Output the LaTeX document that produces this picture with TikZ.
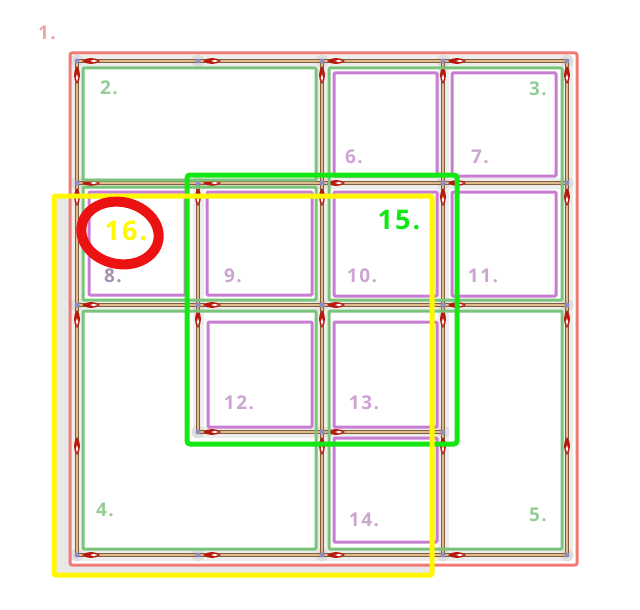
\documentclass[tikz,border=0pt]{standalone}
\usepackage{fontspec}
\newfontfamily\labelfont[LetterSpace=8, BoldFont={Open Sans Bold}]{Open Sans}
\definecolor{redbox}{RGB}{240,122,116}
\definecolor{redlab}{RGB}{240,165,165}
\definecolor{palegreen}{RGB}{122,196,122}
\definecolor{greenlab}{RGB}{150,205,150}
\definecolor{orchidbox}{RGB}{200,125,210}
\definecolor{orchidlab}{RGB}{205,165,210}
\definecolor{greylab}{RGB}{165,145,175}
\definecolor{brightgreen}{RGB}{20,232,20}
\definecolor{qyellow}{RGB}{255,248,0}
\definecolor{pipebrown}{RGB}{130,95,60}
\definecolor{pipetan}{RGB}{222,186,140}
\definecolor{dartred}{RGB}{185,25,12}
\definecolor{markred}{RGB}{236,18,18}
\tikzset{
  pipe/.style={line width=4pt, pipebrown},
  pipecore/.style={line width=1.8pt, pipetan},
  pipeshade/.style={line width=11pt, black!7},
  greenbox/.style={draw=palegreen, line width=3pt, rounded corners=1pt},
  orchidbox/.style={draw=orchidbox, line width=3pt, rounded corners=1pt},
  lab/.style={font=\labelfont\bfseries\fontsize{19}{19}\selectfont, inner sep=0pt},
  biglab/.style={font=\labelfont\bfseries\fontsize{27}{27}\selectfont, inner sep=0pt},
  hdart/.pic={
    \fill[dartred] (0,0) .. controls (5,-4) and (13,-4) .. (18,0)
      .. controls (13,4) and (5,4) .. (0,0);
    \fill[white] (8,0) .. controls (10,-1.4) and (13,-1.4) .. (16,0)
      .. controls (13,1.4) and (10,1.4) .. (8,0);
  }
}
\begin{document}
\begin{tikzpicture}[x=1pt,y=-1pt]
  \useasboundingbox (0,0) rectangle (640,610);
  \foreach \i/\x in {0/77,1/198,2/322,3/443,4/567}
    \foreach \j/\y in {0/61,1/183,2/305,3/432,4/555}
      \coordinate (g\i\j) at (\x,\y);
  \fill[black!9] (56,198) rectangle (430,573);
  \fill[white] (70,53) rectangle (577,565);
  \begin{scope}
    \foreach \a/\b in {00/10,10/20,20/30,30/40,01/11,11/21,21/31,31/41,
        02/12,12/22,22/32,32/42,13/23,23/33,04/14,14/24,24/34,34/44,
        00/01,01/02,02/03,03/04,11/12,12/13,20/21,21/22,22/23,23/24,
        30/31,31/32,32/33,33/34,40/41,41/42,42/43,43/44}
      \draw[pipeshade] (g\a) -- (g\b);
    \foreach \a in {00,10,20,30,40,01,11,21,31,41,02,12,22,32,42,13,23,33,04,14,24,34,44}
      \fill[black!13] (g\a) circle (6.5);
    \foreach \a/\b in {00/10,10/20,20/30,30/40,01/11,11/21,21/31,31/41,
        02/12,12/22,22/32,32/42,13/23,23/33,04/14,14/24,24/34,34/44,
        00/01,01/02,02/03,03/04,11/12,12/13,20/21,21/22,22/23,23/24,
        30/31,31/32,32/33,33/34,40/41,41/42,42/43,43/44}
      {\draw[pipe] (g\a) -- (g\b);
       \draw[pipecore] (g\a) -- (g\b);}
    \foreach \a in {00,10,20,30,01,11,21,31,02,12,22,32,13,23,04,14,24,34}
      \path (g\a) ++(5,0) pic{hdart};
    \foreach \a in {00,01,02,03,11,12,20,21,22,23,30,31,32,33,40,41,42,43}
      \path (g\a) ++(0,5) pic[rotate=-90]{hdart};
    \foreach \a in {00,10,20,30,40,01,11,21,31,41,02,12,22,32,42,13,23,33,04,14,24,34,44}
      \fill[black!50!blue!45] (g\a) circle (2.5);
  \end{scope}
  \draw[redbox, line width=3pt, rounded corners=2pt] (70,53) rectangle (577,565);
  \draw[greenbox] (83,68) rectangle (316,180);
  \draw[greenbox] (83,187) rectangle (316,300);
  \draw[greenbox] (329,68) rectangle (562,300);
  \draw[greenbox] (83,311) rectangle (316,549);
  \draw[greenbox] (329,311) rectangle (562,549);
  \draw[orchidbox] (334,73) rectangle (437,176);
  \draw[orchidbox] (452,73) rectangle (556,176);
  \draw[orchidbox] (89,192) rectangle (185,295);
  \draw[orchidbox] (207,192) rectangle (312,295);
  \draw[orchidbox] (334,192) rectangle (437,296);
  \draw[orchidbox] (452,192) rectangle (556,296);
  \draw[orchidbox] (208,322) rectangle (312,427);
  \draw[orchidbox] (334,322) rectangle (437,427);
  \draw[orchidbox] (334,438) rectangle (437,542);
  \draw[brightgreen, line width=5pt, rounded corners=3pt] (187,175) rectangle (457,444);
  \draw[qyellow, line width=5pt, rounded corners=2pt] (54,196) rectangle (432,575);
  \draw[markred, line width=10pt, rotate around={-12:(120,233)}] (120,233) ellipse (39 and 31);
  \node[lab, text=redlab] (l1) at (47,33) {1.};
  \node[lab, text=greenlab] (l2) at (109,88) {2.};
  \node[lab, text=greenlab] (l3) at (538,89) {3.};
  \node[lab, text=greenlab] (l4) at (105,510) {4.};
  \node[lab, text=greenlab] (l5) at (538,515) {5.};
  \node[lab, text=orchidlab] (l6) at (354,157) {6.};
  \node[lab, text=orchidlab] (l7) at (480,157) {7.};
  \node[lab, text=greylab] (l8) at (113,276) {8.};
  \node[lab, text=orchidlab] (l9) at (233,276) {9.};
  \node[lab, text=orchidlab] (l10) at (362,276) {10.};
  \node[lab, text=orchidlab] (l11) at (483,276) {11.};
  \node[lab, text=orchidlab] (l12) at (239,403) {12.};
  \node[lab, text=orchidlab] (l13) at (364,403) {13.};
  \node[lab, text=orchidlab] (l14) at (364,520) {14.};
  \node[biglab, text=brightgreen] (l15) at (399,220) {15.};
  \node[biglab, text=qyellow] (l16) at (126,231) {16.};
\end{tikzpicture}
\end{document}
